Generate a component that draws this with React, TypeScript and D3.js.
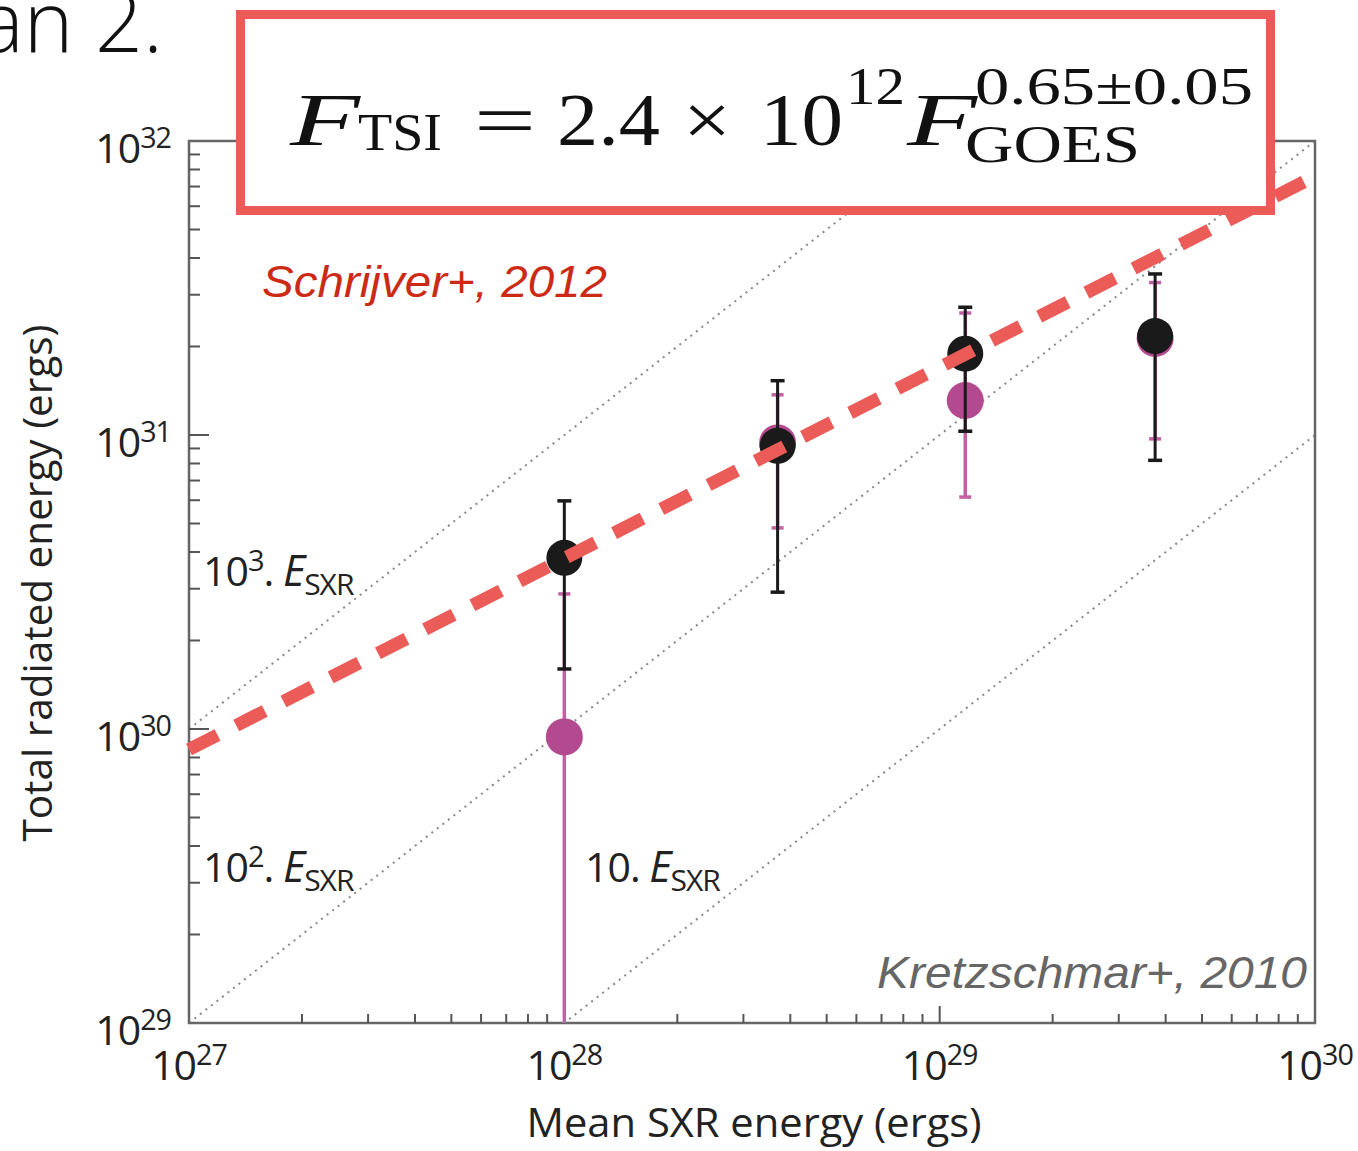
import React from "react";
import * as d3 from "d3";

// Flare sample: mean SXR energy vs total radiated energy
const sxrEnergy = [1.0e28, 3.7e28, 1.17e29, 3.75e29];
const tsiEnergy = [3.82e30, 9.19e30, 1.89e31, 2.17e31];
const tsiLow = [1.6e30, 2.92e30, 1.03e31, 8.2e30];
const tsiHigh = [5.97e30, 1.53e31, 2.72e31, 3.53e31];
const altEnergy = [9.4e29, 9.4e30, 1.31e31, 2.13e31];
const altLow = [1.0e28, 4.83e30, 6.15e30, 9.7e30];
const altHigh = [2.88e30, 1.37e31, 2.6e31, 3.3e31];

// Constant ratio guide lines E_TSI = k * E_SXR
const ratios = [1000, 100, 10];

// Power-law fit F_TSI = A * F_GOES^p
const fitAmplitude = 2.4e12;
const fitExponent = 0.65;

const xDomain = [1e27, 1e30];
const yDomain = [1e29, 1e32];
const xTickExps = [27, 28, 29, 30];
const yTickExps = [32, 31, 30, 29];

const W = 1358;
const H = 1151;
const L = 189, R = 1315, T = 141, B = 1023;

const SANS = "'Open Sans', 'Noto Sans', sans-serif";
const ITAL = "'Liberation Sans', Arial, sans-serif";
const SERIF = "'Liberation Serif', 'Times New Roman', serif";

const BLACK = "#1a1a1a";
const MAG_FILL = "#B3498F";
const MAG_BAR = "#C45FA4";
const FIT_RED = "#EB5B57";

export default function App() {
  const x = d3.scaleLog().domain(xDomain).range([L, R]);
  const y = d3.scaleLog().domain(yDomain).range([B, T]);

  const isMajor = (v: number) => Math.abs(Math.log10(v) - Math.round(Math.log10(v))) < 1e-6;
  const xTicks = x.ticks().filter((v) => v > xDomain[0] && v < xDomain[1]);
  const yTicks = y.ticks().filter((v) => v > yDomain[0] && v < yDomain[1]);

  const line = d3
    .line<[number, number]>()
    .x((d) => x(d[0]))
    .y((d) => y(d[1]));

  const fitPts: [number, number][] = xDomain.map((v) => [v, fitAmplitude * Math.pow(v, fitExponent)]);

  const eq = [
    { t: "F", x: 290, y: 145, s: 74, it: true, w: 70 },
    { t: "TSI", x: 358, y: 150, s: 52, it: false, w: 84 },
    { t: "=", x: 474, y: 145, s: 74, it: false, w: 62 },
    { t: "2.4", x: 557, y: 145, s: 74, it: false, w: 103 },
    { t: "×", x: 683, y: 145, s: 74, it: false, w: 48 },
    { t: "10", x: 760, y: 145, s: 74, it: false, w: 83 },
    { t: "12", x: 846, y: 104, s: 52, it: false, w: 59 },
    { t: "F", x: 907, y: 145, s: 74, it: true, w: 70 },
    { t: "0.65±0.05", x: 975, y: 104, s: 52, it: false, w: 278 },
    { t: "GOES", x: 965, y: 162, s: 52, it: false, w: 175 },
  ];

  const sup = (base: string, exp: string, size: number) => (
    <>
      {base}
      <tspan fontSize={size * 0.7} dy={-size * 0.36}>{exp}</tspan>
    </>
  );

  const ratioLabel = (lx: number, ly: number, pre: string, exp: string | null) => (
    <text x={lx} y={ly} fontFamily={SANS} fontSize={41} fill="#222" letterSpacing={-1}>
      {pre}
      {exp !== null && <tspan fontSize={29} dy={-15}>{exp}</tspan>}
      <tspan dy={exp !== null ? 15 : 0}>. </tspan>
      <tspan fontStyle="italic" fontSize={43}>E</tspan>
      <tspan fontSize={30} dy={9}>SXR</tspan>
    </text>
  );

  return (
    <svg
      width={W}
      height={H}
      viewBox={`0 0 ${W} ${H}`}
      style={{ position: "absolute", left: 0, top: 0, display: "block", background: "#fff" }}
    >
      <defs>
        <clipPath id="plotClip">
          <rect x={L} y={T} width={R - L} height={B - T} />
        </clipPath>
      </defs>
      <rect x={0} y={0} width={W} height={H} fill="#fff" />

      {/* trailing text from the surrounding document */}
      <text x={163} y={52} textAnchor="end" fontFamily={SANS} fontWeight={300} fontSize={84} fill="#111">
        an 2.
      </text>

      {/* guide lines */}
      <g clipPath="url(#plotClip)">
        {ratios.map((k) => (
          <path
            key={k}
            d={line(xDomain.map((v) => [v, v * k]) as [number, number][]) || ""}
            fill="none"
            stroke="#888"
            strokeWidth={2}
            strokeDasharray="2 5"
          />
        ))}
      </g>

      {/* frame */}
      <rect x={L} y={T} width={R - L} height={B - T} fill="none" stroke="#666" strokeWidth={2.5} />

      {/* ticks */}
      {yTicks.map((v) => (
        <line key={"y" + v} x1={L} x2={L + (isMajor(v) ? 20 : 11)} y1={y(v)} y2={y(v)} stroke="#555" strokeWidth={2} />
      ))}
      {xTicks.map((v) => (
        <line key={"x" + v} x1={x(v)} x2={x(v)} y1={B} y2={B - (isMajor(v) ? 17 : 9)} stroke="#555" strokeWidth={2} />
      ))}

      {/* tick labels */}
      {yTickExps.map((e) => (
        <text key={"yl" + e} x={171} y={y(Math.pow(10, e)) + 22} textAnchor="end" fontFamily={SANS} fontSize={41} fill="#222" letterSpacing={-1}>
          {sup("10", String(e), 41)}
        </text>
      ))}
      {xTickExps.map((e) => (
        <text key={"xl" + e} x={x(Math.pow(10, e))} y={1080} textAnchor="middle" fontFamily={SANS} fontSize={41} fill="#222" letterSpacing={-1}>
          {sup("10", String(e), 41)}
        </text>
      ))}

      {/* axis titles */}
      <text
        transform={`translate(52,583) rotate(-90)`}
        textAnchor="middle"
        fontFamily={SANS}
        fontSize={40}
        fill="#222"
        textLength={517}
        lengthAdjust="spacingAndGlyphs"
      >
        Total radiated energy (ergs)
      </text>
      <text x={754} y={1137} textAnchor="middle" fontFamily={SANS} fontSize={40} fill="#222" textLength={455} lengthAdjust="spacingAndGlyphs">
        Mean SXR energy (ergs)
      </text>

      {/* guide line labels */}
      {ratioLabel(203, 586, "10", "3")}
      {ratioLabel(203, 882, "10", "2")}
      {ratioLabel(585, 882, "10", null)}

      {/* data */}
      <g clipPath="url(#plotClip)">
        {sxrEnergy.map((v, i) => (
          <g key={"m" + i}>
            <line x1={x(v)} x2={x(v)} y1={y(altLow[i])} y2={y(altHigh[i])} stroke={MAG_BAR} strokeWidth={3.5} />
            <line x1={x(v) - 6} x2={x(v) + 6} y1={y(altHigh[i])} y2={y(altHigh[i])} stroke={MAG_BAR} strokeWidth={3.5} />
            <line x1={x(v) - 6} x2={x(v) + 6} y1={y(altLow[i])} y2={y(altLow[i])} stroke={MAG_BAR} strokeWidth={3.5} />
            <circle cx={x(v)} cy={y(altEnergy[i])} r={18.5} fill={MAG_FILL} />
          </g>
        ))}
        {sxrEnergy.map((v, i) => (
          <g key={"b" + i}>
            <line x1={x(v)} x2={x(v)} y1={y(tsiLow[i])} y2={y(tsiHigh[i])} stroke={BLACK} strokeWidth={3} />
            <line x1={x(v) - 7} x2={x(v) + 7} y1={y(tsiHigh[i])} y2={y(tsiHigh[i])} stroke={BLACK} strokeWidth={3.5} />
            <line x1={x(v) - 7} x2={x(v) + 7} y1={y(tsiLow[i])} y2={y(tsiLow[i])} stroke={BLACK} strokeWidth={3.5} />
            <circle cx={x(v)} cy={y(tsiEnergy[i])} r={18} fill={BLACK} />
          </g>
        ))}
      </g>

      {/* power-law fit */}
      <path
        d={line(fitPts) || ""}
        fill="none"
        stroke={FIT_RED}
        strokeWidth={13}
        strokeDasharray="32 21"
      />

      {/* source labels */}
      <text x={262} y={297} fontFamily={ITAL} fontStyle="italic" fontSize={45} fill="#CC2A14" textLength={345} lengthAdjust="spacingAndGlyphs">
        Schrijver+, 2012
      </text>
      <text x={877} y={988} fontFamily={ITAL} fontStyle="italic" fontSize={45} fill="#666" textLength={430} lengthAdjust="spacingAndGlyphs">
        Kretzschmar+, 2010
      </text>

      {/* equation box */}
      <rect x={240.5} y={14.5} width={1030} height={196} fill="#fff" stroke={FIT_RED} strokeWidth={9} />
      {eq.map((p, i) => (
        <text
          key={"eq" + i}
          x={p.x}
          y={p.y}
          fontFamily={SERIF}
          fontStyle={p.it ? "italic" : "normal"}
          fontSize={p.s}
          fill="#111"
          textLength={p.w}
          lengthAdjust="spacingAndGlyphs"
        >
          {p.t}
        </text>
      ))}
    </svg>
  );
}
